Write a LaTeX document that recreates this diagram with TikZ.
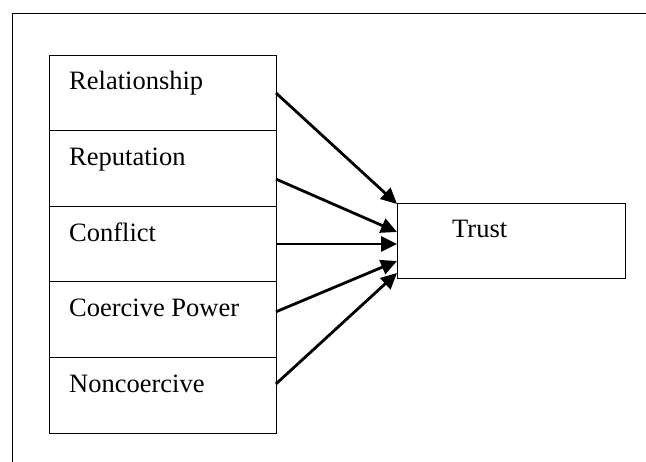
\documentclass[tikz,border=0pt]{standalone}
\usepackage{fontspec}
\setmainfont{Liberation Serif}
\usetikzlibrary{arrows.meta,calc}
\begin{document}
\begin{tikzpicture}[x=1pt,y=-1pt,
  box/.style={draw,line width=0.8pt,rectangle,inner sep=0pt,outer sep=0pt,anchor=north west,minimum width=227pt,minimum height=75.6pt},
  lbl/.style={anchor=base west,inner sep=0pt,font=\fontsize{26.5}{30}\selectfont},
  arr/.style={line width=2.8pt,-{Triangle[length=16pt,width=15pt]},shorten >=0pt}]
\useasboundingbox (0,0) rectangle (646,462);
% frame
\coordinate (fa) at (646,13);
\coordinate (fb) at (12,13);
\coordinate (fc) at (12,462);
\draw[line width=0.9pt] (fa) -- (fb) -- (fc);
% boxes
\node[box] (r1) at (49,55) {};
\node[box] (r2) at (49,130.6) {};
\node[box] (r3) at (49,206.2) {};
\node[box] (r4) at (49,281.8) {};
\node[box] (r5) at (49,357.4) {};
\node[box,minimum width=228pt,minimum height=75pt] (t) at (397,203) {};
% labels
\node[lbl] (l1) at (69,90) {Relationship};
\node[lbl] (l2) at (69,165.6) {Reputation};
\node[lbl] (l3) at (69,241.2) {Conflict};
\node[lbl] (l4) at (69,316.8) {Coercive Power};
\node[lbl] (l5) at (69,392.4) {Noncoercive};
\node[lbl] (lt) at (452,238) {Trust};
% arrow end points
\coordinate (s1) at ($(r1.north east)+(0,38)$);
\coordinate (s2) at ($(r2.north east)+(0,48.5)$);
\coordinate (s3) at (r3.east);
\coordinate (s4) at ($(r4.north east)+(0,30)$);
\coordinate (s5) at ($(r5.north east)+(0,26.5)$);
\coordinate (e1) at ($(t.north west)+(0,1)$);
\coordinate (e2) at ($(t.north west)+(0,29)$);
\coordinate (e3) at ($(t.north west)+(0,41)$);
\coordinate (e4) at ($(t.north west)+(0,58)$);
\coordinate (e5) at ($(t.north west)+(0,70)$);
\draw[arr] (s1) -- (e1);
\draw[arr] (s2) -- (e2);
\draw[arr] (s3) -- (e3);
\draw[arr] (s4) -- (e4);
\draw[arr] (s5) -- (e5);
\end{tikzpicture}
\end{document}
